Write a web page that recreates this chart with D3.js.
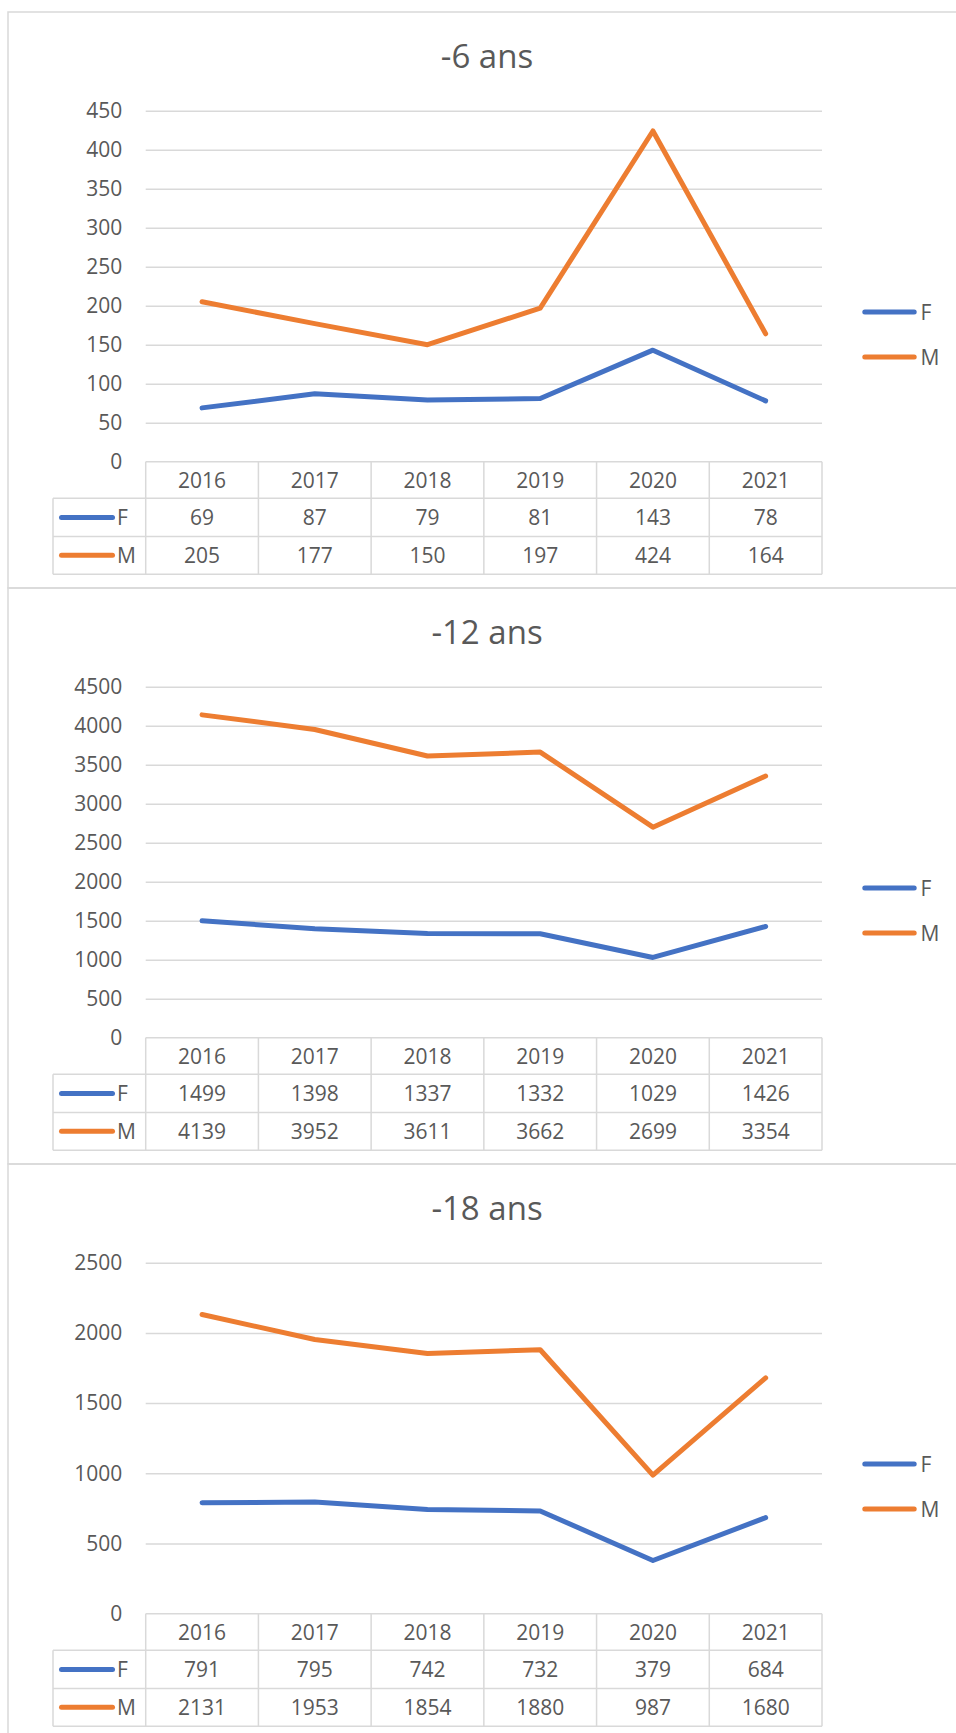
<!DOCTYPE html>
<html>
<head>
<meta charset="utf-8">
<script src="https://cdn.jsdelivr.net/npm/d3@7"></script>
<style>
  body { margin: 0; background: #fff; }
  svg text { font-family: "Open Sans", sans-serif; fill: #595959; }
</style>
</head>
<body>
<div id="chart"></div>
<script>
// data
var years = ["2016", "2017", "2018", "2019", "2020", "2021"];
var seriesNames = ["F", "M"];
var titles = ["-6 ans", "-12 ans", "-18 ans"];

var f6 = [69, 87, 79, 81, 143, 78];
var m6 = [205, 177, 150, 197, 424, 164];
var f12 = [1499, 1398, 1337, 1332, 1029, 1426];
var m12 = [4139, 3952, 3611, 3662, 2699, 3354];
var f18 = [791, 795, 742, 732, 379, 684];
var m18 = [2131, 1953, 1854, 1880, 987, 1680];

var yMax = [450, 4500, 2500];
var yStep = [50, 500, 500];

var charts = [
    { title: titles[0], values: [f6, m6], max: yMax[0], step: yStep[0] },
    { title: titles[1], values: [f12, m12], max: yMax[1], step: yStep[1] },
    { title: titles[2], values: [f18, m18], max: yMax[2], step: yStep[2] }
];

var colors = ["#4472C4", "#ED7D31"];
var width = 956, height = 1733;
var boxH = 576;
var plotLeft = 145.7, plotRight = 822;
var plotTop = 98.7, plotBottom = 449.7;
var rowTops = [449.7, 486.3, 524.5, 562.2];
var legendLeft = 53;
var grey = "#d9d9d9";

var svg = d3.select("#chart")
            .append("svg")
            .attr("width", width)
            .attr("height", height);

var x = d3.scaleBand()
          .domain(years)
          .range([plotLeft, plotRight])
          .padding(0);

charts.forEach(function(c, i) {
    var top = 12 + i * boxH;
    var g = svg.append("g").attr("transform", "translate(0," + top + ")");

    // chart box (right side runs off the page)
    g.append("rect")
     .attr("x", 8)
     .attr("y", 0)
     .attr("width", 1000)
     .attr("height", boxH)
     .attr("fill", "none")
     .attr("stroke", grey)
     .attr("stroke-width", 1.5);

    var y = d3.scaleLinear()
              .domain([0, c.max])
              .range([plotBottom, plotTop]);
    var ticks = d3.range(0, c.max + c.step / 2, c.step);

    // gridlines
    var grid = g.append("g")
                .attr("transform", "translate(" + plotLeft + ",0)")
                .call(d3.axisLeft(y).tickValues(ticks.slice(1)).tickSize(-(plotRight - plotLeft)).tickFormat(""));
    grid.select(".domain").remove();
    grid.selectAll("line").attr("stroke", grey).attr("stroke-width", 1.5);

    // y labels
    var yAxis = g.append("g")
                 .attr("transform", "translate(" + plotLeft + ",0)")
                 .call(d3.axisLeft(y).tickValues(ticks).tickSize(0).tickPadding(23.5).tickFormat(d3.format("d")));
    yAxis.select(".domain").remove();
    yAxis.selectAll("text")
         .style("font-size", "21px")
         .style("font-family", "'Open Sans', sans-serif")
         .attr("fill", "#595959");

    // title
    g.append("text")
     .attr("x", 487)
     .attr("y", 55.5)
     .attr("text-anchor", "middle")
     .style("font-size", "33px")
     .text(c.title);

    // lines
    var line = d3.line()
                 .x(function(d, j) { return x(years[j]) + x.bandwidth() / 2; })
                 .y(function(d) { return y(d); });

    c.values.forEach(function(vals, s) {
        g.append("path")
         .datum(vals)
         .attr("d", line)
         .attr("fill", "none")
         .attr("stroke", colors[s])
         .attr("stroke-width", 5)
         .attr("stroke-linecap", "round")
         .attr("stroke-linejoin", "round");
    });

    // data table
    var tbl = g.append("g");
    // horizontal borders
    tbl.append("line")
       .attr("x1", plotLeft).attr("x2", plotRight)
       .attr("y1", rowTops[0]).attr("y2", rowTops[0]);
    [1, 2, 3].forEach(function(r) {
        tbl.append("line")
           .attr("x1", legendLeft).attr("x2", plotRight)
           .attr("y1", rowTops[r]).attr("y2", rowTops[r]);
    });
    // vertical borders
    tbl.append("line")
       .attr("x1", legendLeft).attr("x2", legendLeft)
       .attr("y1", rowTops[1]).attr("y2", rowTops[3]);
    years.forEach(function(yr) {
        tbl.append("line")
           .attr("x1", x(yr)).attr("x2", x(yr))
           .attr("y1", rowTops[0]).attr("y2", rowTops[3]);
    });
    tbl.append("line")
       .attr("x1", plotRight).attr("x2", plotRight)
       .attr("y1", rowTops[0]).attr("y2", rowTops[3]);
    tbl.selectAll("line").attr("stroke", grey).attr("stroke-width", 1.5);

    // header years
    tbl.selectAll("text.year")
       .data(years)
       .enter()
       .append("text")
       .attr("class", "year")
       .attr("x", function(d) { return x(d) + x.bandwidth() / 2; })
       .attr("y", (rowTops[0] + rowTops[1]) / 2)
       .attr("dy", "0.36em")
       .attr("text-anchor", "middle")
       .style("font-size", "21px")
       .text(function(d) { return d; });

    c.values.forEach(function(vals, s) {
        var cy = (rowTops[s + 1] + rowTops[s + 2]) / 2;
        tbl.selectAll("text.v" + s)
           .data(vals)
           .enter()
           .append("text")
           .attr("class", "v" + s)
           .attr("x", function(d, j) { return x(years[j]) + x.bandwidth() / 2; })
           .attr("y", cy)
           .attr("dy", "0.36em")
           .attr("text-anchor", "middle")
           .style("font-size", "21px")
           .text(function(d) { return d; });

        // legend key inside table
        tbl.append("line")
           .attr("x1", 61.5).attr("x2", 112.5)
           .attr("y1", cy).attr("y2", cy)
           .attr("stroke", colors[s])
           .attr("stroke-width", 5)
           .attr("stroke-linecap", "round");
        tbl.append("text")
           .attr("x", 117)
           .attr("y", cy)
           .attr("dy", "0.36em")
           .style("font-size", "21px")
           .text(seriesNames[s]);
    });

    // legend on the right
    var leg = g.append("g");
    seriesNames.forEach(function(name, s) {
        var ly = 300 + s * 45;
        leg.append("line")
           .attr("x1", 864.8).attr("x2", 914.2)
           .attr("y1", ly).attr("y2", ly)
           .attr("stroke", colors[s])
           .attr("stroke-width", 5)
           .attr("stroke-linecap", "round");
        leg.append("text")
           .attr("x", 920.5)
           .attr("y", ly)
           .attr("dy", "0.36em")
           .style("font-size", "21px")
           .text(name);
    });
});
</script>
</body>
</html>
